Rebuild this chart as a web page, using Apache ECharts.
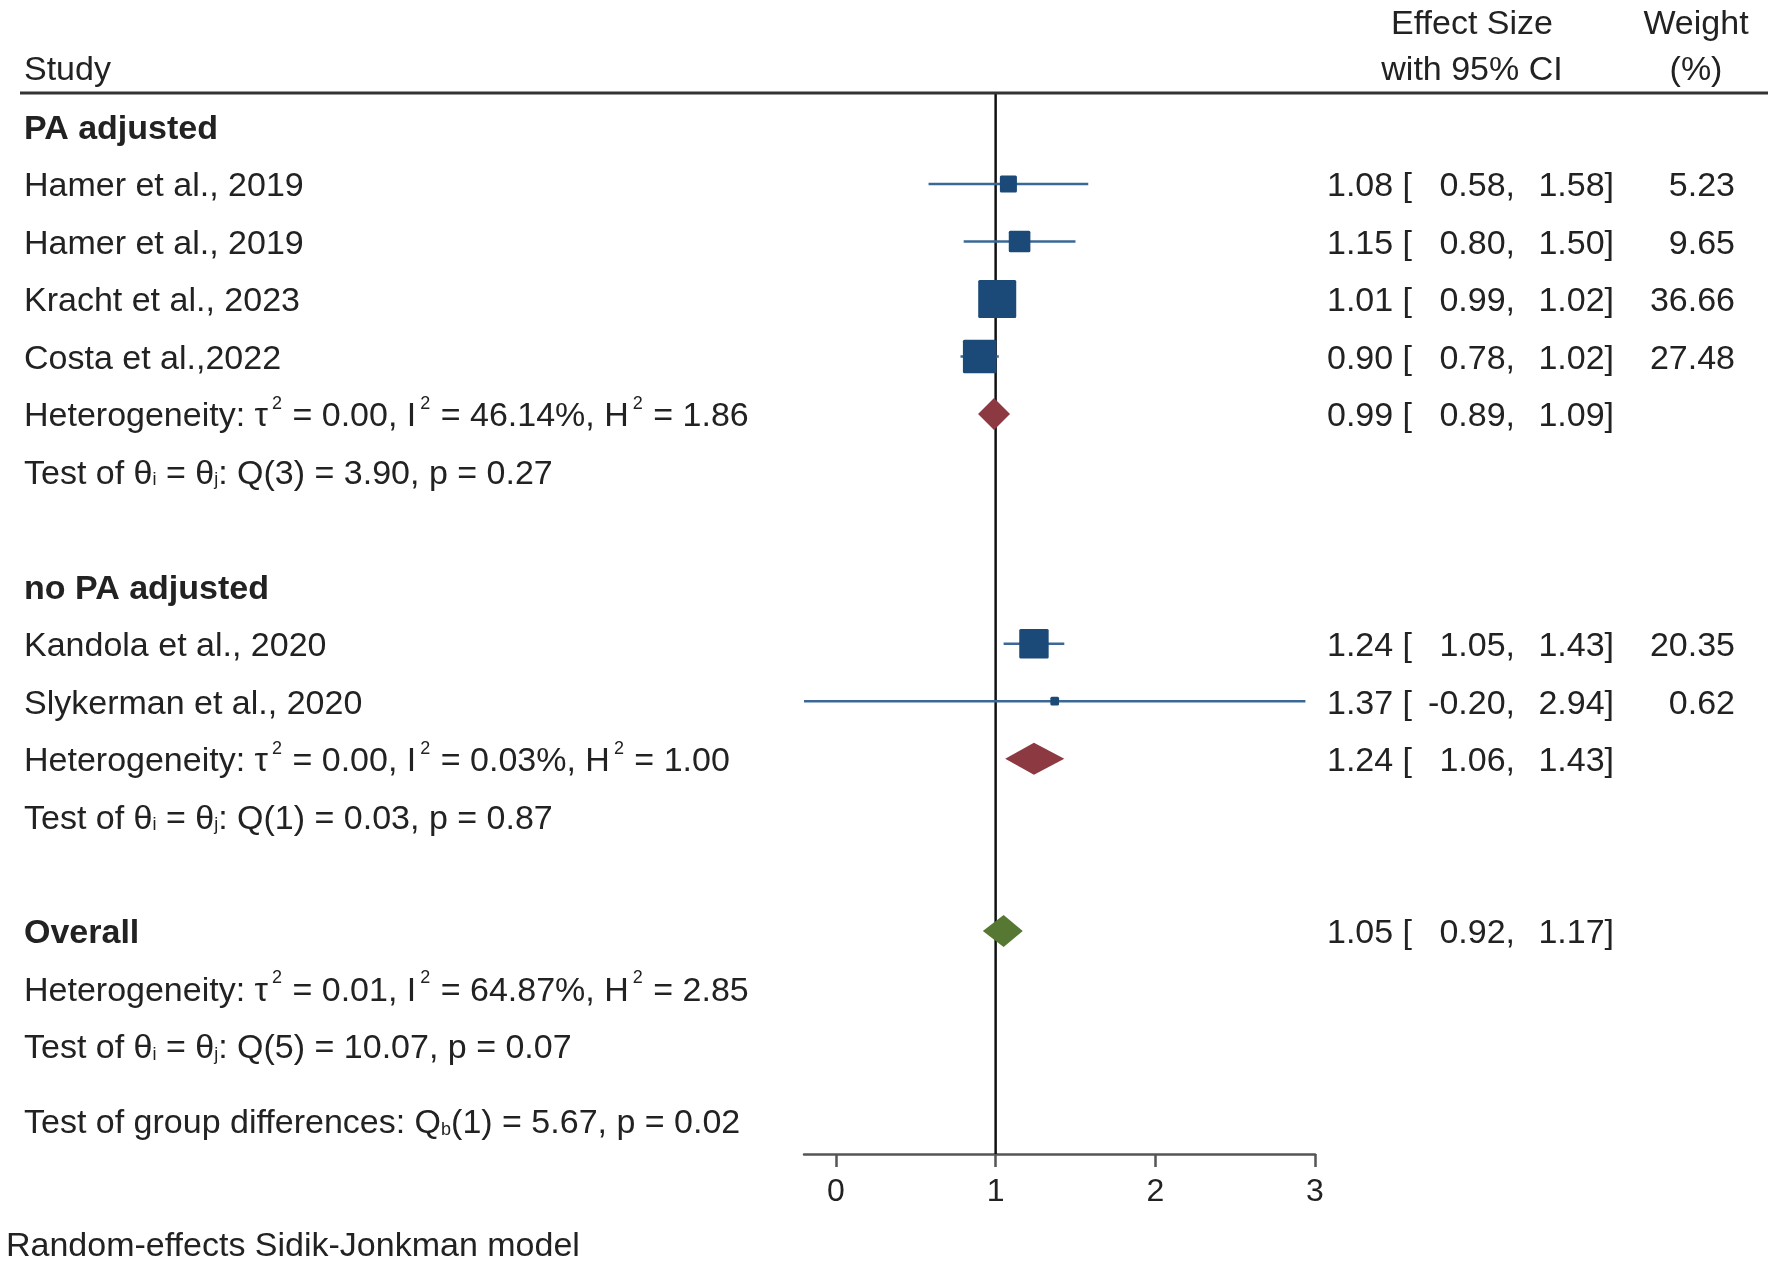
<!DOCTYPE html>
<html>
<head>
<meta charset="utf-8">
<title>Forest plot</title>
<script src="https://cdn.jsdelivr.net/npm/echarts@6/dist/echarts.min.js"></script>
<style>
    html, body { margin: 0; padding: 0; background: #fff; }
    #forest { width: 1772px; height: 1265px; }
</style>
</head>
<body>
<div id="forest"></div>
<script type="text/javascript">
    // studies
    var studyNames = ['Hamer et al., 2019', 'Hamer et al., 2019', 'Kracht et al., 2023', 'Costa et al.,2022', 'Kandola et al., 2020', 'Slykerman et al., 2020'];
    var studyRows = [1, 2, 3, 4, 9, 10];
    var studyES = [1.08, 1.15, 1.01, 0.90, 1.24, 1.37];
    var studyLo = [0.58, 0.80, 0.99, 0.78, 1.05, -0.20];
    var studyHi = [1.58, 1.50, 1.02, 1.02, 1.43, 2.94];
    var studyWeight = [5.23, 9.65, 36.66, 27.48, 20.35, 0.62];

    // pooled estimates (diamonds)
    var poolRows = [5, 11, 14];
    var poolES = [0.99, 1.24, 1.05];
    var poolLo = [0.89, 1.06, 0.92];
    var poolHi = [1.09, 1.43, 1.17];
    var poolColors = ['#8c3942', '#8c3942', '#567832'];

    // group titles and statistics
    var groupLabels = ['PA adjusted', 'no PA adjusted', 'Overall'];
    var groupRows = [0, 8, 14];
    var hetRows = [5, 11, 15];
    var hetTau2 = ['0.00', '0.00', '0.01'];
    var hetI2 = ['46.14', '0.03', '64.87'];
    var hetH2 = ['1.86', '1.00', '2.85'];
    var testRows = [6, 12, 16];
    var testDf = [3, 1, 5];
    var testQ = ['3.90', '0.03', '10.07'];
    var testP = ['0.27', '0.87', '0.07'];
    var diffRow = 17.3;
    var diffDf = 1;
    var diffQ = '5.67';
    var diffP = '0.02';

    var xTicks = [0, 1, 2, 3];

    var FONT = '"Liberation Sans", Arial, Helvetica, sans-serif';
    var TXT = '#222';
    var FS = 34;

    var rich = {
        sup: {fontSize: 18, fontFamily: FONT, fill: TXT, verticalAlign: 'top', lineHeight: 18, padding: [0, 1, 0, 4]},
        sub: {fontSize: 18, fontFamily: FONT, fill: TXT, verticalAlign: 'bottom', lineHeight: 32, height: 32}
    };

    var leftLines = [];
    groupLabels.forEach(function (g, k) {
        leftLines.push({row: groupRows[k], text: g, bold: true});
    });
    studyNames.forEach(function (n, k) {
        leftLines.push({row: studyRows[k], text: n});
    });
    hetRows.forEach(function (r, k) {
        leftLines.push({row: r, text: 'Heterogeneity: τ{sup|2} = ' + hetTau2[k] + ', I{sup|2} = ' + hetI2[k] + '%, H{sup|2} = ' + hetH2[k]});
    });
    testRows.forEach(function (r, k) {
        leftLines.push({row: r, text: 'Test of θ{sub|i} = θ{sub|j}: Q(' + testDf[k] + ') = ' + testQ[k] + ', p = ' + testP[k]});
    });
    leftLines.push({row: diffRow, text: 'Test of group differences: Q{sub|b}(' + diffDf + ') = ' + diffQ + ', p = ' + diffP});

    function txt(x, y, s, align, bold) {
        return {
            type: 'text',
            style: {
                text: s, x: x, y: y + 3,
                fontSize: FS, fontFamily: FONT, fontWeight: bold ? 'bold' : 'normal',
                fill: TXT, lineHeight: 44,
                align: align || 'left', textAlign: align || 'left',
                verticalAlign: 'middle', textVerticalAlign: 'middle',
                rich: rich
            }
        };
    }

    // columns on the right
    function ciText(y, es, lo, hi, w) {
        var out = [
            txt(1327, y, es.toFixed(2) + ' [', 'left'),
            txt(1515, y, lo.toFixed(2) + ',', 'right'),
            txt(1614, y, hi.toFixed(2) + ']', 'right')
        ];
        if (w != null) out.push(txt(1735, y, w.toFixed(2), 'right'));
        return out;
    }

    var myChart = echarts.init(document.getElementById('forest'));

    var option = {
        backgroundColor: '#fff',
        animation: false,
        grid: {left: 804, right: 457, top: 93, bottom: 111},
        xAxis: {
            type: 'value',
            position: 'bottom',
            min: -0.2,
            max: 3,
            axisLine: {show: true, onZero: false, lineStyle: {color: '#555', width: 2.5}},
            axisTick: {show: true, customValues: xTicks, length: 13, lineStyle: {color: '#555', width: 2.5}},
            axisLabel: {customValues: xTicks, fontSize: 32, fontFamily: FONT, color: TXT, margin: 22},
            splitLine: {show: false}
        },
        yAxis: {
            type: 'value',
            inverse: true,
            min: -0.585,
            max: 17.88,
            show: false
        },
        graphic: [
            {type: 'line', shape: {x1: 20, y1: 93, x2: 1768, y2: 93}, style: {stroke: '#333', lineWidth: 3}, z: 10},
            txt(24, 68, 'Study', 'left'),
            txt(1472, 22, 'Effect Size', 'center'),
            txt(1472, 68, 'with 95% CI', 'center'),
            txt(1696, 22, 'Weight', 'center'),
            txt(1696, 68, '(%)', 'center'),
            txt(6, 1244, 'Random-effects Sidik-Jonkman model', 'left')
        ],
        series: [
            {
                // reference line at 1
                type: 'line',
                data: [[1, -0.585], [1, 17.88]],
                symbol: 'none',
                lineStyle: {color: '#111', width: 2.5},
                z: 1,
                silent: true
            },
            {
                type: 'custom',
                clip: false,
                z: 3,
                data: studyES.map(function (v, i) {
                    return [v, studyRows[i], studyLo[i], studyHi[i], studyWeight[i]];
                }),
                encode: {x: 0, y: 1},
                renderItem: function (params, api) {
                    var c = api.coord([api.value(0), api.value(1)]);
                    var lo = api.coord([api.value(2), api.value(1)]);
                    var hi = api.coord([api.value(3), api.value(1)]);
                    var w = api.value(4);
                    var s = 5.57 * Math.sqrt(w) + 4.3;
                    return {
                        type: 'group',
                        children: [
                            {type: 'line', shape: {x1: lo[0], y1: c[1], x2: hi[0], y2: c[1]}, style: {stroke: '#3b6894', lineWidth: 2.5}},
                            {type: 'rect', shape: {x: c[0] - s / 2, y: c[1] - s / 2, width: s, height: s, r: 1.5}, style: {fill: '#1b4978'}}
                        ].concat(ciText(c[1], api.value(0), api.value(2), api.value(3), w))
                    };
                }
            },
            {
                type: 'custom',
                clip: false,
                z: 3,
                data: poolES.map(function (v, i) {
                    return [v, poolRows[i], poolLo[i], poolHi[i]];
                }),
                encode: {x: 0, y: 1},
                renderItem: function (params, api) {
                    var c = api.coord([api.value(0), api.value(1)]);
                    var lo = api.coord([api.value(2), api.value(1)]);
                    var hi = api.coord([api.value(3), api.value(1)]);
                    var h = 16;
                    return {
                        type: 'group',
                        children: [
                            {
                                type: 'polygon',
                                shape: {points: [[lo[0], c[1]], [c[0], c[1] - h], [hi[0], c[1]], [c[0], c[1] + h]]},
                                style: {fill: poolColors[params.dataIndex]}
                            }
                        ].concat(ciText(c[1], api.value(0), api.value(2), api.value(3), null))
                    };
                }
            },
            {
                // text down the left side
                type: 'custom',
                clip: false,
                z: 3,
                data: leftLines.map(function (l) { return [0, l.row]; }),
                encode: {x: 0, y: 1},
                renderItem: function (params, api) {
                    var l = leftLines[params.dataIndex];
                    var y = api.coord([0, api.value(1)])[1];
                    return txt(24, y, l.text, 'left', l.bold);
                }
            }
        ]
    };
    myChart.setOption(option);
</script>
</body>
</html>
